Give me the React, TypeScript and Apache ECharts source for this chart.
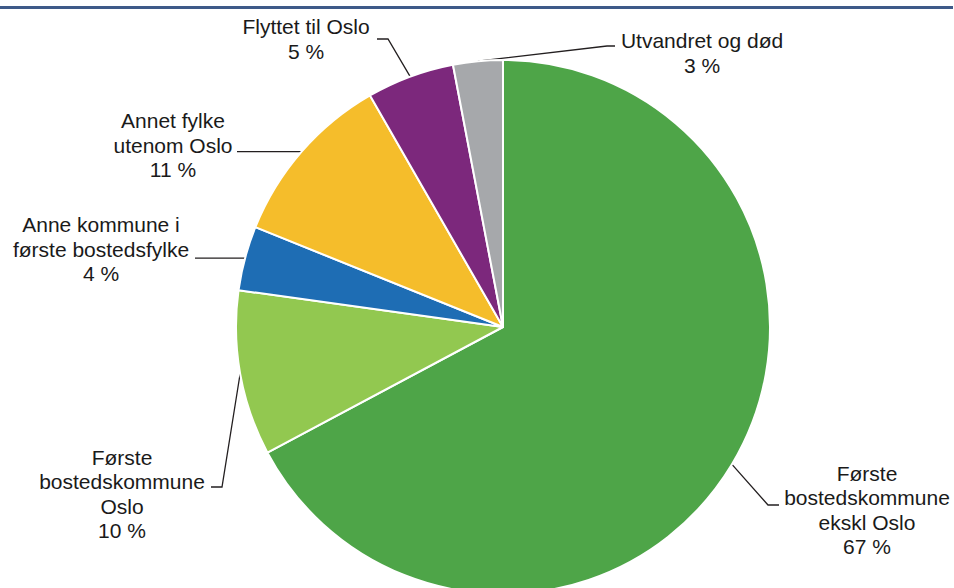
import React, { useEffect, useRef } from "react";
import * as echarts from "echarts";

const categories = [
  "Første\nbostedskommune\nekskl Oslo",
  "Første\nbostedskommune\nOslo",
  "Anne kommune i\nførste bostedsfylke",
  "Annet fylke\nutenom Oslo",
  "Flyttet til Oslo",
  "Utvandret og død",
];
const values = [67.2, 10.0, 3.9, 10.6, 5.3, 3.0];
const colors = ["#4ea548", "#92c850", "#1e6db4", "#f5bd2b", "#7c287c", "#a6a8ab"];

// label block centers and leader elbows (layout only)
const labelPlacement = [
  { x: 867, y: 510, elbow: [[768, 505], [779, 505]] },
  { x: 122, y: 494, elbow: [[222, 487], [211, 487]] },
  { x: 101, y: 249, elbow: [[195, null]] },
  { x: 173, y: 145, elbow: [[237, null]] },
  { x: 306, y: 39, elbow: [[388, 39], [377, 39]] },
  { x: 702, y: 53, elbow: [[607, 46], [615, 46]] },
];

export default function App() {
  const ref = useRef<HTMLDivElement>(null);
  useEffect(() => {
    if (!ref.current) return;
    const chart = echarts.init(ref.current, null, { renderer: "svg" });
    chart.setOption({
      animation: false,
      backgroundColor: "#ffffff",
      graphic: [
        {
          type: "rect",
          shape: { x: 0, y: 6, width: 953, height: 3 },
          style: { fill: "#3e5a89" },
          z: 10,
        },
      ],
      series: [
        {
          type: "pie",
          center: [503, 327],
          radius: 267,
          startAngle: 90,
          clockwise: true,
          avoidLabelOverlap: false,
          itemStyle: { borderColor: "#ffffff", borderWidth: 2 },
          label: {
            show: true,
            position: "outside",
            fontFamily: "'Liberation Sans', Arial, sans-serif",
            fontSize: 21,
            lineHeight: 24.5,
            color: "#1a1a1a",
            align: "center",
            formatter: (p: any) => `${p.name}\n${Math.round(p.percent)} %`,
          },
          labelLine: {
            show: true,
            length: 10,
            length2: 10,
            smooth: false,
            lineStyle: { color: "#231f20", width: 1.3 },
          },
          labelLayout: (params: any) => {
            const pl = labelPlacement[params.dataIndex];
            const start = params.labelLinePoints ? params.labelLinePoints[0] : [0, 0];
            const pts: number[][] = [[start[0], start[1]]];
            pl.elbow.forEach((e: any) => {
              pts.push([e[0], e[1] == null ? start[1] : e[1]]);
            });
            return {
              x: pl.x,
              y: pl.y,
              align: "center",
              verticalAlign: "middle",
              labelLinePoints: pts,
              hideOverlap: false,
              moveOverlap: null,
            };
          },
          data: categories.map((name, i) => ({
            name,
            value: values[i],
            itemStyle: { color: colors[i] },
          })),
        },
      ],
    });
    return () => chart.dispose();
  }, []);
  return (
    <div
      ref={ref}
      style={{ position: "fixed", left: 0, top: 0, width: 954, height: 588 }}
    />
  );
}
